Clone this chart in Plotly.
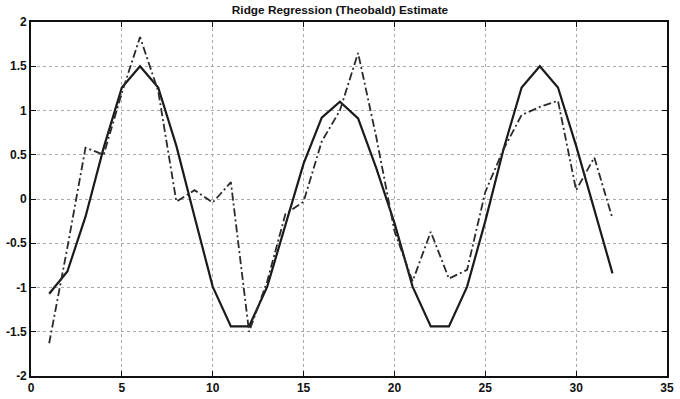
import plotly.graph_objects as go

x_vals = list(range(1, 33))
true_signal = [-1.07, -0.82, -0.2, 0.58, 1.26, 1.5, 1.26, 0.6, -0.2, -0.99,
               -1.44, -1.44, -0.99, -0.3, 0.4, 0.92, 1.1, 0.91, 0.35, -0.27,
               -0.99, -1.44, -1.44, -0.99, -0.25, 0.56, 1.26, 1.5, 1.26, 0.6,
               -0.12, -0.84]
ridge_estimate = [-1.63, -0.55, 0.58, 0.5, 1.2, 1.83, 1.22, -0.03, 0.1, -0.04,
                  0.19, -1.5, -0.93, -0.17, -0.03, 0.65, 1.0, 1.65, 0.7, -0.36,
                  -0.93, -0.37, -0.9, -0.8, 0.08, 0.56, 0.95, 1.04, 1.11, 0.1,
                  0.47, -0.22]
x_ticks = [0, 5, 10, 15, 20, 25, 30, 35]
y_ticks = [-2, -1.5, -1, -0.5, 0, 0.5, 1, 1.5, 2]
y_ticktext = ["-2", "-1.5", "-1", "-0.5", "0", "0.5", "1", "1.5", "2"]
title_text = "Ridge Regression (Theobald) Estimate"

fig = go.Figure()
fig.add_trace(go.Scatter(x=x_vals, y=true_signal, mode="lines",
                         line=dict(color="#1a1a1a", width=2.2), showlegend=False))
fig.add_trace(go.Scatter(x=x_vals, y=ridge_estimate, mode="lines",
                         line=dict(color="#2a2a2a", width=1.8, dash="8px,3px,2px,3px"),
                         showlegend=False))

axis_common = dict(
    showline=True, linecolor="#111", linewidth=1.6, mirror="ticks",
    ticks="inside", ticklen=5, tickcolor="#111", tickwidth=1.3,
    showgrid=True, gridcolor="#aaa", griddash="dot", gridwidth=1,
    zeroline=False, automargin=False,
    tickfont=dict(family="Liberation Sans, Arial, sans-serif", size=12, color="#111"),
)

fig.update_xaxes(range=[0, 35], tickvals=x_ticks,
                 ticktext=["<b>" + str(v) + "</b>" for v in x_ticks], **axis_common)
fig.update_yaxes(range=[-2, 2], tickvals=y_ticks,
                 ticktext=["<b>" + t + "</b>" for t in y_ticktext], **axis_common)

fig.update_layout(
    width=680, height=399,
    margin=dict(l=31, r=13, t=22, b=23),
    paper_bgcolor="white", plot_bgcolor="white",
    title=dict(text="<b>" + title_text + "</b>", x=0.5, xanchor="center",
               y=0.985, yanchor="top",
               font=dict(family="Liberation Sans, Arial, sans-serif", size=11.8, color="#111")),
)

fig.write_html("out.html")
